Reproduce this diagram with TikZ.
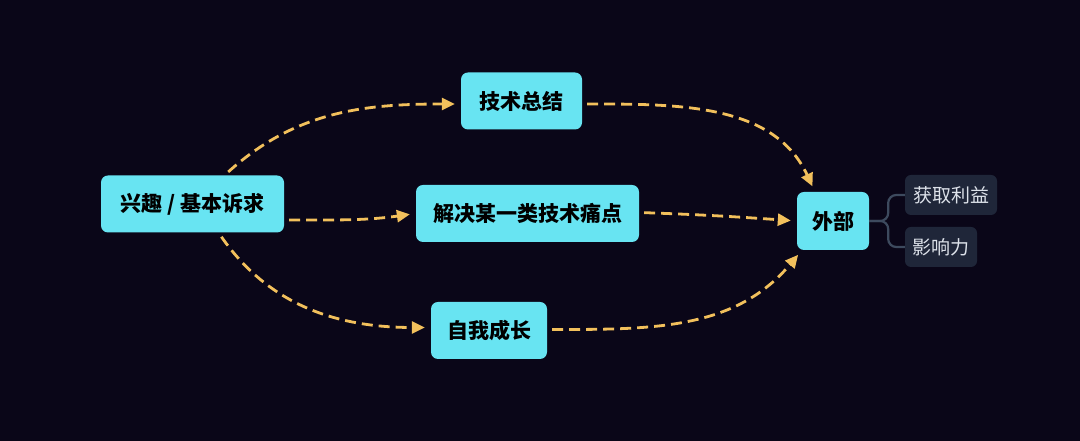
\documentclass[tikz,border=0pt]{standalone}
\usepackage{fontspec}
\setmainfont{Noto Sans CJK SC}
\usepackage{xcolor}
\usetikzlibrary{positioning, arrows.meta}
\definecolor{bgdark}{HTML}{0A0618}
\definecolor{topiccyan}{HTML}{68E4F2}
\definecolor{flowgold}{HTML}{F2C05C}
\definecolor{sidebox}{HTML}{1F2639}
\definecolor{sidetext}{HTML}{DDE2EA}
\definecolor{branchline}{HTML}{3D4A5E}

\begin{document}
\begin{tikzpicture}[x=1pt, y=1pt,
  topic/.style={rectangle, rounded corners=7pt, fill=topiccyan, draw=none, text=black,
    minimum height=57pt, inner sep=0pt, font=\fontsize{21}{21}\selectfont\bfseries},
  side/.style={rectangle, rounded corners=6pt, fill=sidebox, draw=none, text=sidetext,
    minimum height=40pt, inner sep=0pt, font=\fontsize{19}{19}\selectfont},
  flow/.style={draw=flowgold, line width=2.8pt, dash pattern=on 11pt off 6pt,
    -{Triangle[length=13pt,width=12pt]}, shorten <=5pt, shorten >=6pt},
  branch/.style={draw=branchline, line width=2.2pt, rounded corners=8pt}]
  \fill[bgdark] (0,0) rectangle (1080,441);
  \useasboundingbox (0,0) rectangle (1080,441);
  % main topics
  \node[topic, minimum width=183pt] (int) at (192.5,237) {兴趣 / 基本诉求};
  \node[topic, minimum width=121pt] (tech) at (521.5,340) {技术总结};
  \node[topic, minimum width=223pt] (pain) at (527.5,227.5) {解决某一类技术痛点};
  \node[topic, minimum width=116pt] (grow) at (489,110.5) {自我成长};
  \node[topic, minimum width=72pt, minimum height=58pt] (ext) at (833,220) {外部};
  % sub topics
  \node[side, minimum width=92pt] (gain) at (951,246) {获取利益};
  \node[side, minimum width=72pt] (infl) at (941,194) {影响力};
  % flows
  \draw[flow] ([xshift=32pt]int.north) to[out=42,in=180] ([yshift=-3pt]tech.west);
  \draw[flow] ([yshift=-16pt]int.east) to[out=0,in=188] (pain.west);
  \draw[flow] ([xshift=26pt]int.south) to[out=-55,in=180] ([yshift=3pt]grow.west);
  \draw[flow] ([yshift=-3pt]tech.east) to[out=0,in=115] ([xshift=-18pt]ext.north);
  \draw[flow] ([yshift=1pt]pain.east) to[out=-2,in=176] (ext.west);
  \draw[flow] ([yshift=1pt]grow.east) to[out=0,in=-130] ([xshift=-31pt]ext.south);
  % branches
  \draw[branch] (ext.east) -- ++(19,0) |- (gain.west);
  \draw[branch] (ext.east) -- ++(19,0) |- (infl.west);
\end{tikzpicture}
\end{document}
